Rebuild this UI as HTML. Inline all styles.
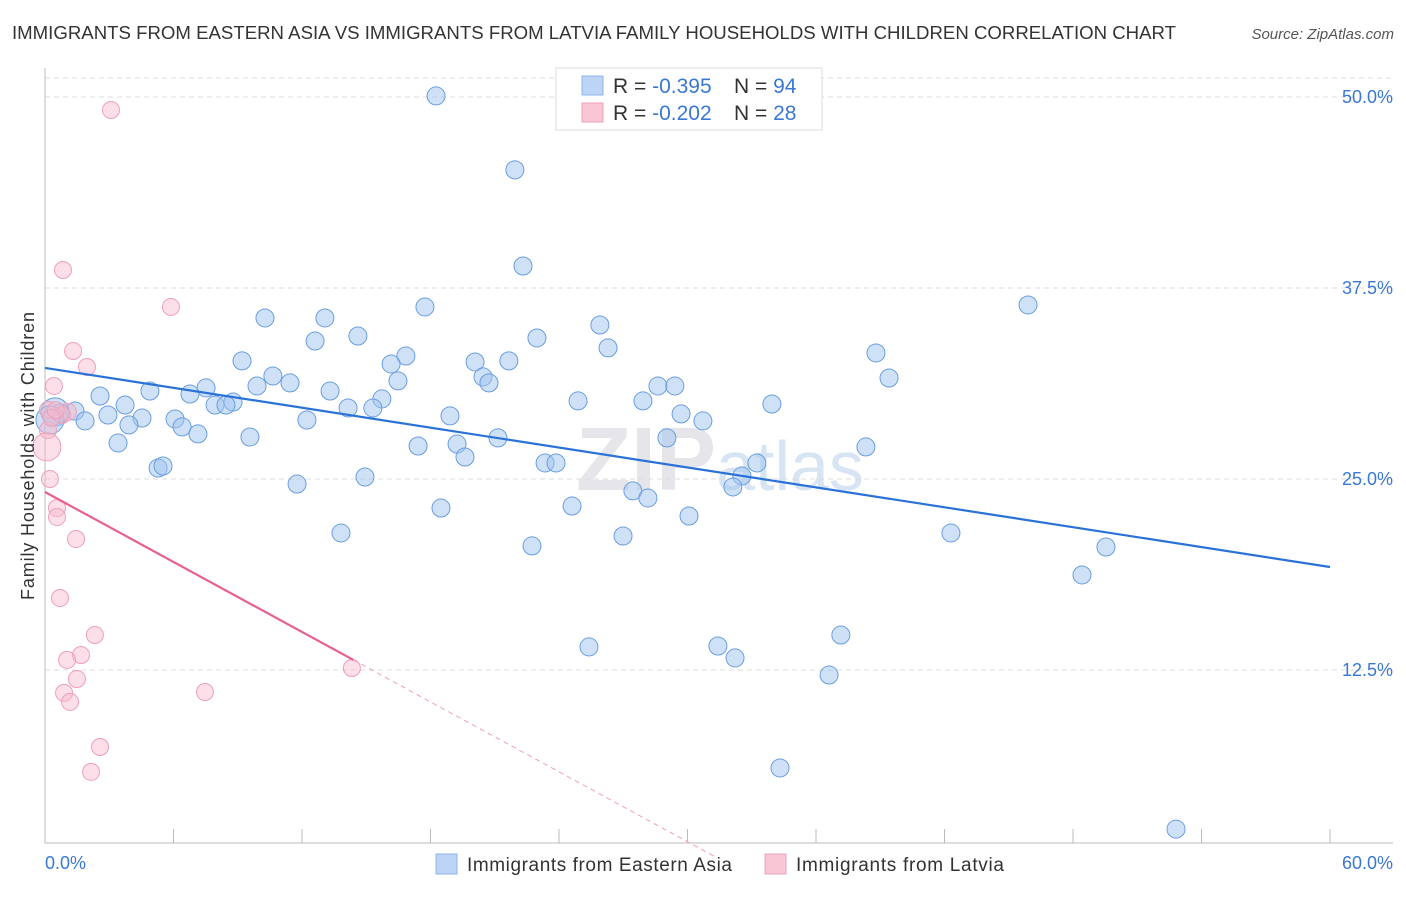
<!DOCTYPE html>
<html><head><meta charset="utf-8"><style>
body{margin:0;background:#fff;font-family:"Liberation Sans",sans-serif;}
</style></head><body>
<svg width="1406" height="892" xmlns="http://www.w3.org/2000/svg" font-family="Liberation Sans, sans-serif">
<text x="12" y="39" font-size="18" fill="#333" textLength="1164" lengthAdjust="spacingAndGlyphs">IMMIGRANTS FROM EASTERN ASIA VS IMMIGRANTS FROM LATVIA FAMILY HOUSEHOLDS WITH CHILDREN CORRELATION CHART</text>
<text x="1394" y="39" font-size="15" fill="#555" font-style="italic" text-anchor="end">Source: ZipAtlas.com</text>
<text x="720" y="490" font-size="90" fill="#e6e6ea" text-anchor="middle" font-weight="bold">ZIP<tspan fill="#d6e4f4" font-weight="normal" font-size="70">atlas</tspan></text>
<g id="grid"></g><g id="axes"></g><g id="marks"></g>
<text transform="translate(34,456) rotate(-90)" font-size="18" fill="#333" text-anchor="middle" textLength="288">Family Households with Children</text>
<g>
<rect x="556" y="68" width="266" height="62" fill="#fff" stroke="#ddd"/>
<rect x="582" y="76" width="21" height="19" fill="#bcd4f5" stroke="#8fb3e8"/>
<text x="613" y="93" font-size="21" fill="#333">R = <tspan fill="#3a78d4">-0.395</tspan><tspan x="734">N = </tspan><tspan fill="#3a78d4">94</tspan></text>
<rect x="582" y="103" width="21" height="19" fill="#f9c6d6" stroke="#eea3bb"/>
<text x="613" y="120" font-size="21" fill="#333">R = <tspan fill="#3a78d4">-0.202</tspan><tspan x="734">N = </tspan><tspan fill="#3a78d4">28</tspan></text>
</g>
<g>
<rect x="436" y="854" width="21" height="20" fill="#bcd4f5" stroke="#8fb3e8"/>
<text x="467" y="871" font-size="19" fill="#333" textLength="265">Immigrants from Eastern Asia</text>
<rect x="765" y="854" width="21" height="20" fill="#f9c6d6" stroke="#eea3bb"/>
<text x="796" y="871" font-size="19" fill="#333" textLength="208">Immigrants from Latvia</text>
</g>
</svg>
<script>
const xTickLabels=["0.0%","60.0%"];
const yTicks=[12.5,25,37.5,50];
const yTickLabels=["12.5%","25.0%","37.5%","50.0%"];
const blueX=[18.26,21.94,22.32,45.90,10.27,13.07,17.74,25.91,12.61,14.61,22.97,26.29,38.80,9.20,16.85,16.16,20.08,21.66,10.64,11.44,9.90,16.48,20.45,20.73,39.41,4.90,7.52,13.31,28.62,29.41,2.57,6.77,8.78,7.94,8.45,15.73,24.89,27.92,33.94,3.74,14.15,15.31,0.70,1.40,2.94,4.53,6.07,29.70,30.72,18.91,1.87,3.92,6.40,12.23,7.14,9.57,3.41,21.15,29.04,17.42,19.24,38.33,19.61,5.28,5.51,23.35,23.86,33.24,32.54,14.94,32.12,11.77,27.45,28.15,24.61,18.49,30.07,13.82,26.99,42.30,22.74,49.54,48.42,25.40,31.42,37.16,32.22,36.61,34.32,52.81,0.47,0.23];
const blueY=[50.07,45.23,38.94,36.39,35.54,35.54,36.26,35.08,34.03,34.36,34.23,33.58,33.25,32.73,33.05,32.53,32.66,32.73,31.74,31.29,31.09,31.42,31.68,31.29,31.61,30.76,30.96,30.76,31.09,31.09,30.43,30.56,30.04,29.84,29.84,30.24,30.11,30.11,29.91,29.84,29.65,29.65,29.32,29.45,29.19,28.99,28.93,29.26,28.80,29.13,28.80,28.54,28.41,28.86,27.95,27.75,27.36,27.69,27.69,27.16,27.29,27.10,26.44,25.72,25.85,26.05,26.05,26.05,25.20,25.13,24.48,24.67,24.22,23.76,23.23,23.10,22.58,21.47,21.27,21.47,20.62,20.55,18.72,14.01,14.07,14.79,13.29,12.17,6.09,2.09,29.39,28.86];
const pinkX=[3.08,0.84,5.88,1.31,1.96,0.42,0.14,1.07,0.79,0.14,0.09,0.23,0.56,0.56,1.45,0.70,2.33,1.68,1.03,1.49,0.89,1.17,7.47,14.33,2.57,2.15,0.3,0.5];
const pinkY=[49.15,38.68,36.26,33.38,32.33,31.09,29.52,29.39,29.19,28.21,27.10,25.00,23.10,22.51,21.07,17.21,14.79,13.48,13.16,11.91,11.00,10.41,11.06,12.63,7.46,5.83,29.0,29.5];
const blueTrend=[32.27,19.24];
const pinkTrend=[24.15,13.16,0.27];
const pinkTrendX=[0,14.4,31.3];
const sx=v=>45+v/60*1285, sy=v=>861-v/12.5*191;
const NS="http://www.w3.org/2000/svg";
function mk(p,t,a){const e=document.createElementNS(NS,t);for(const k in a)e.setAttribute(k,a[k]);p.appendChild(e);return e;}
const grid=document.getElementById('grid'),axes=document.getElementById('axes'),marks=document.getElementById('marks');
yTicks.forEach((v,i)=>{
 const l=mk(grid,'line',{x1:45,x2:1393,y1:sy(v),y2:sy(v),stroke:'#ddd','stroke-dasharray':'5,4'});
 
 
 const t=mk(axes,'text',{x:1393,y:sy(v)+6,'font-size':18,fill:'#3a78d4','text-anchor':'end'});t.textContent=yTickLabels[i];
 
 
});
mk(grid,'line',{x1:45,x2:1393,y1:78,y2:78,stroke:'#ddd','stroke-dasharray':'5,4'});
mk(axes,'line',{x1:45,x2:45,y1:68,y2:843,stroke:'#bbb'});
mk(axes,'line',{x1:45,x2:1393,y1:843,y2:843,stroke:'#bbb'});
for(let i=0;i<=10;i++){mk(axes,'line',{x1:sx(i*6),x2:sx(i*6),y1:829,y2:843,stroke:'#bbb'});}
const xl0=mk(axes,'text',{x:45,y:869,'font-size':18,fill:'#3a78d4'});xl0.textContent=xTickLabels[0];


const xl1=mk(axes,'text',{x:1393,y:869,'font-size':18,fill:'#3a78d4','text-anchor':'end'});xl1.textContent=xTickLabels[1];


blueX.forEach((x,i)=>{const c=mk(marks,'circle',{cx:sx(x),cy:sy(blueY[i]),r:i>=90?14:9,fill:'rgba(160,196,240,0.5)',stroke:'#6a9ee0','stroke-width':1});
 
 });
pinkX.forEach((x,i)=>{const c=mk(marks,'circle',{cx:sx(x),cy:sy(pinkY[i]),r:i==10?14:8.5,fill:'rgba(248,185,205,0.45)',stroke:'#eea0b8','stroke-width':1});
 
 });
const bt=mk(marks,'line',{x1:sx(0),y1:sy(blueTrend[0]),x2:sx(60),y2:sy(blueTrend[1]),stroke:'#2a72d8','stroke-width':2.2});


const pt=mk(marks,'line',{x1:sx(pinkTrendX[0]),y1:sy(pinkTrend[0]),x2:sx(pinkTrendX[1]),y2:sy(pinkTrend[1]),stroke:'#e8608f','stroke-width':2.2});


const pd=mk(marks,'line',{x1:sx(pinkTrendX[1]),y1:sy(pinkTrend[1]),x2:sx(pinkTrendX[2]),y2:sy(pinkTrend[2]),stroke:'#eea0b8','stroke-width':1,'stroke-dasharray':'5,4'});


</script>
</body></html>
